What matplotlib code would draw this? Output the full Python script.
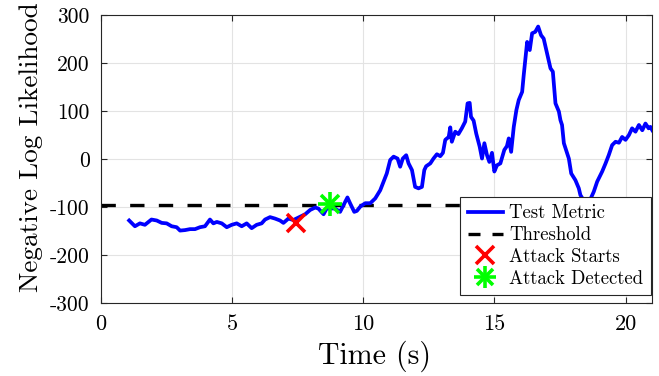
import numpy as np
import matplotlib
matplotlib.use("Agg")
import matplotlib.pyplot as plt
from matplotlib.lines import Line2D
from matplotlib.legend_handler import HandlerTuple

plt.rcParams['font.family'] = 'serif'
plt.rcParams['font.serif'] = ['cmr10']
plt.rcParams['axes.unicode_minus'] = False
plt.rcParams['mathtext.fontset'] = 'cm'

# test metric
time_s = [1.08, 1.30, 1.49, 1.68, 1.93, 2.13, 2.32, 2.51, 2.70, 2.89, 3.02, 3.21, 3.40,
          3.59, 3.78, 3.97, 4.16, 4.29, 4.42, 4.61, 4.80, 4.99, 5.18, 5.37, 5.56, 5.75,
          5.94, 6.13, 6.26, 6.45, 6.64, 6.83, 6.96, 7.15, 7.34, 7.60, 7.79, 7.98, 8.17,
          8.29, 8.49, 8.61, 8.93, 9.12, 9.25, 9.40, 9.50, 9.66, 9.76, 9.89, 10.08, 10.27,
          10.46, 10.65, 10.78, 10.90, 11.03, 11.16, 11.31, 11.41, 11.51, 11.64, 11.73,
          11.86, 11.98, 12.11, 12.24, 12.33, 12.40, 12.56, 12.68, 12.81, 12.94, 13.04,
          13.13, 13.26, 13.32, 13.38, 13.51, 13.63, 13.76, 13.89, 13.98, 14.06, 14.11,
          14.21, 14.31, 14.44, 14.53, 14.62, 14.72, 14.81, 14.91, 15.00, 15.10, 15.23,
          15.38, 15.48, 15.55, 15.64, 15.74, 15.84, 15.93, 16.06, 16.12, 16.25, 16.35,
          16.44, 16.56, 16.67, 16.78, 16.88, 17.01, 17.14, 17.23, 17.33, 17.46, 17.52,
          17.58, 17.65, 17.84, 17.93, 18.09, 18.22, 18.28, 18.47, 18.65, 18.79, 18.92,
          19.11, 19.24, 19.36, 19.49, 19.62, 19.75, 19.87, 20.00, 20.13, 20.25, 20.38,
          20.51, 20.64, 20.76, 20.88, 20.95, 21.02]
nll = [-128, -140, -134, -137, -126, -128, -133, -134, -140, -142, -149, -148, -146,
       -146, -142, -140, -126, -134, -131, -134, -142, -137, -134, -140, -134, -144,
       -137, -134, -126, -121, -124, -128, -133, -124, -127, -120, -115, -106, -101,
       -103, -115, -103, -103, -110, -96, -80, -92, -110, -108, -99, -92, -92,
       -82, -65, -47, -30, -2, 5, 1, -16, 1, 8, -9,
       -23, -58, -61, -58, -23, -15, -9, 1, 10, 6, 13,
       40, 46, 66, 36, 57, 52, 64, 78, 116, 117, 88,
       80, 53, 26, 1, 33, 8, -6, 13, -26, -13, -9,
       19, 27, 43, 15, 67, 102, 123, 140, 175, 244, 227,
       262, 265, 276, 258, 251, 220, 189, 182, 116, 99, 81,
       71, 33, 1, -30, -44, -61, -75, -92, -85, -68, -47,
       -26, -9, 8, 29, 36, 34, 46, 40, 50, 64, 57,
       71, 60, 74, 64, 67, 60]

threshold = -95
attack_start = (7.45, -133)
attack_detect = (8.72, -94)

fig = plt.figure(figsize=(6.59, 3.76), dpi=100)
ax = fig.add_axes([0.153, 0.194, 0.836, 0.766])

ax.plot(time_s, nll, color=(0, 0, 1), lw=2.7, zorder=3)
ax.axhline(threshold, color='k', lw=2.4, dashes=(4.3, 4.3), zorder=2)
ax.plot(*attack_start, marker='x', color=(1, 0, 0), ms=13, mew=2.6, ls='none', zorder=4)
ax.plot(*attack_detect, marker='+', color=(0, 1, 0), ms=17.5, mew=2.6, ls='none', zorder=4)
ax.plot(*attack_detect, marker='x', color=(0, 1, 0), ms=12.5, mew=2.6, ls='none', zorder=4)

ax.set_xlim(0, 21)
ax.set_ylim(-300, 300)
ax.set_xticks([0, 5, 10, 15, 20])
ax.set_yticks(np.arange(-300, 301, 100))
ax.grid(True, color='#e3e3e3', lw=0.8)
ax.set_axisbelow(True)
ax.tick_params(direction='in', top=True, right=True, length=4, width=0.8,
               colors='#262626', labelcolor='black')
ax.tick_params(axis='y', labelsize=15.5, pad=8)
ax.tick_params(axis='x', labelsize=16, pad=8)
for s in ax.spines.values():
    s.set_color('#262626')
    s.set_linewidth(0.8)

ax.set_xlabel('Time (s)', fontsize=21.5)
ax.set_ylabel('Negative Log Likelihood', fontsize=19.6)
ax.xaxis.set_label_coords(0.497, -0.13)
ax.yaxis.set_label_coords(-0.105, 0.54)

h_metric = Line2D([], [], color=(0, 0, 1), lw=2.7)
h_thr = Line2D([], [], color='k', lw=2.4, dashes=(3.6, 3.6))
h_start = Line2D([], [], marker='x', color=(1, 0, 0), ms=12.5, mew=2.6, ls='none')
h_det1 = Line2D([], [], marker='+', color=(0, 1, 0), ms=16, mew=2.6, ls='none')
h_det2 = Line2D([], [], marker='x', color=(0, 1, 0), ms=11.5, mew=2.6, ls='none')
leg = ax.legend([h_metric, h_thr, h_start, (h_det1, h_det2)],
                ['Test Metric', 'Threshold', 'Attack Starts', 'Attack Detected'],
                handler_map={tuple: HandlerTuple(ndivide=1, pad=0)},
                loc='lower right', bbox_to_anchor=(650.5 / 659, 1 - 295 / 376),
                bbox_transform=fig.transFigure, borderaxespad=0,
                fontsize=13.5, frameon=True, fancybox=False, framealpha=1,
                edgecolor='#262626', handlelength=1.9, handletextpad=0.3,
                labelspacing=0.2, borderpad=0.4)
leg.get_frame().set_linewidth(0.8)

fig.savefig('out.png', dpi=100)
